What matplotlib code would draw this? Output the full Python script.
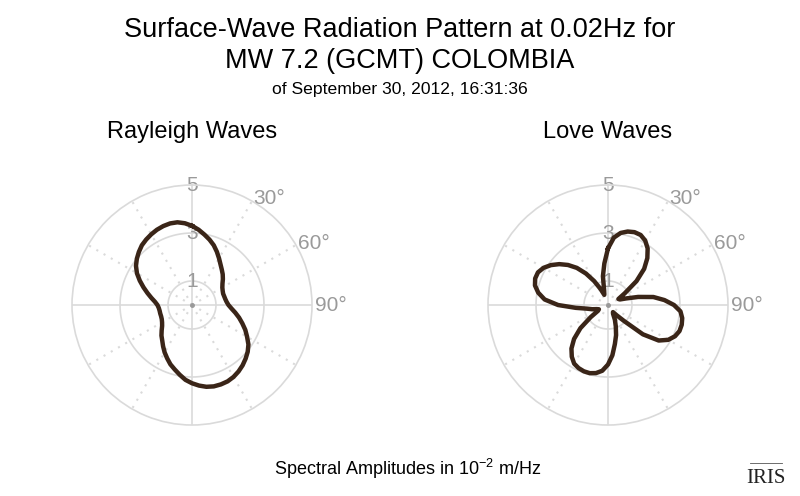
import numpy as np
import matplotlib.pyplot as plt
from matplotlib.lines import Line2D

plt.rcParams['font.family'] = ['Liberation Sans', 'DejaVu Sans']
plt.rcParams['mathtext.fontset'] = 'custom'
plt.rcParams['mathtext.rm'] = 'Liberation Sans'
plt.rcParams['mathtext.default'] = 'regular'

# azimuth in degrees (clockwise from north), amplitudes in 1e-2 m/Hz
azimuth = list(range(0, 360, 5))
rayleigh = [3.30, 3.15, 2.98, 2.82, 2.65, 2.45, 2.25, 2.07, 1.93, 1.81, 1.68, 1.55,
            1.46, 1.41, 1.38, 1.39, 1.41, 1.45, 1.52, 1.65, 1.83, 2.03, 2.23, 2.45,
            2.65, 2.87, 3.03, 3.16, 3.28, 3.38, 3.46, 3.51, 3.52, 3.51, 3.46, 3.37,
            3.26, 3.13, 2.95, 2.78, 2.63, 2.45, 2.28, 2.10, 1.93, 1.80, 1.65, 1.52,
            1.44, 1.39, 1.37, 1.37, 1.37, 1.39, 1.44, 1.55, 1.72, 1.92, 2.15, 2.40,
            2.65, 2.85, 3.00, 3.13, 3.25, 3.33, 3.40, 3.46, 3.50, 3.52, 3.50, 3.42]
love = [2.36, 2.82, 3.05, 3.17, 3.23, 3.22, 3.10, 2.88, 2.55, 2.13, 1.55, 0.85,
        0.50, 0.55, 0.80, 1.30, 1.92, 2.36, 2.75, 3.03, 3.14, 3.18, 3.17, 3.08,
        2.90, 2.58, 1.90, 0.93, 0.55, 0.36, 0.42, 0.68, 0.95, 1.30, 1.65, 2.10,
        2.48, 2.75, 2.88, 2.94, 2.94, 2.90, 2.82, 2.63, 2.37, 2.00, 1.50, 0.88,
        0.48, 0.42, 0.50, 0.68, 0.88, 1.35, 2.08, 2.65, 2.95, 3.15, 3.23, 3.22,
        3.10, 2.90, 2.65, 2.36, 2.02, 1.60, 1.15, 0.74, 0.45, 0.62, 1.22, 1.74]

ring_values = [1, 3, 5]
angle_labels = [30, 60, 90]

line_col = '#3a2518'
grid_col = '#dadada'
label_col = '#9a9a9a'

fig = plt.figure(figsize=(8, 4.96), dpi=100)


def draw_polar(rect, values, title):
    ax = fig.add_axes(rect, projection='polar')
    ax.set_theta_zero_location('N')
    ax.set_theta_direction(-1)
    ax.set_ylim(0, 5)
    ax.grid(False)
    ax.set_xticks([])
    ax.set_yticks([])
    ax.spines['polar'].set_color(grid_col)
    ax.spines['polar'].set_linewidth(1.2)
    ax.patch.set_alpha(0)
    full = np.linspace(0, 2 * np.pi, 361)
    for r in ring_values[:-1]:
        ax.plot(full, np.full_like(full, r), color=grid_col, lw=1.2, zorder=1)
    for a in range(0, 360, 30):
        t = np.deg2rad(a)
        ls = '-' if a % 90 == 0 else (0, (1, 3))
        ax.plot([t, t], [0, 5], color=grid_col, lw=1.2 if a % 90 == 0 else 1.5,
                ls=ls, zorder=1)
    ax.plot([0], [0], 'o', color='#999999', ms=2.5, zorder=2)
    for r in ring_values:
        ax.text(0, r, str(r), color=label_col, fontsize=15, ha='center',
                va='center', zorder=2)
    for a in angle_labels:
        ax.text(np.deg2rad(a), 5.12, '%d°' % a, color=label_col, fontsize=15,
                ha='left', va='center')
    th = np.deg2rad(azimuth + [360])
    rr = values + [values[0]]
    ax.plot(th, rr, color=line_col, lw=3.2, zorder=3, solid_joinstyle='round')
    cx = rect[0] + rect[2] / 2
    fig.text(cx, 1 - 138 / 496, title, ha='center', va='baseline', fontsize=17)
    return ax


draw_polar([0.09, 0.1431, 0.30, 0.4839], rayleigh, 'Rayleigh Waves')
draw_polar([0.61, 0.1431, 0.30, 0.4839], love, 'Love Waves')

fig.text(0.5, 1 - 37 / 496, 'Surface-Wave Radiation Pattern at 0.02Hz for',
         ha='center', va='baseline', fontsize=19.5)
fig.text(0.5, 1 - 68 / 496, 'MW 7.2 (GCMT) COLOMBIA',
         ha='center', va='baseline', fontsize=19.5)
fig.text(0.5, 1 - 94 / 496, 'of September 30, 2012, 16:31:36',
         ha='center', va='baseline', fontsize=12.6)
fig.text(0.51, 1 - 475 / 496, 'Spectral Amplitudes in $10^{-2}$ m/Hz',
         ha='center', va='baseline', fontsize=13)

# IRIS logo
fig.text(0.958, 1 - 483 / 496, 'IRIS', ha='center', va='baseline', fontsize=15,
         family='Liberation Serif', color='#222222')
fig.add_artist(Line2D([0.938, 0.978], [1 - 463 / 496] * 2, color='#555555', lw=0.6))

fig.savefig('out.png', dpi=100)
